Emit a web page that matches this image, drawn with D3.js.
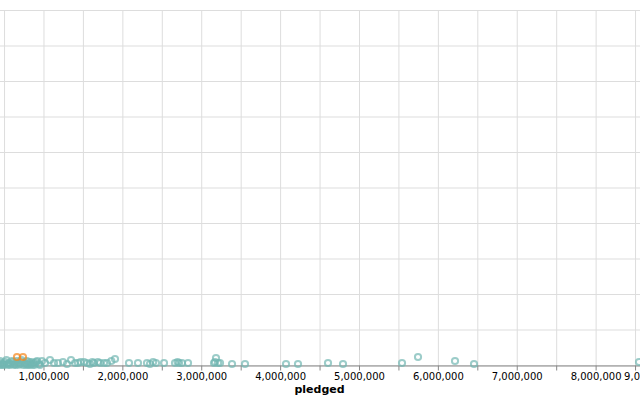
<!DOCTYPE html>
<html>
<head>
<meta charset="utf-8">
<script src="https://cdn.jsdelivr.net/npm/d3@7"></script>
<style>
  html, body { margin: 0; padding: 0; background: #fff; overflow: hidden; }
  svg { display: block; font-family: "DejaVu Sans", sans-serif; }
</style>
</head>
<body>
<svg id="chart" width="640" height="400"></svg>
<script>
// ---- data ----
const categories = ["teal", "orange"];
const categoryColors = ["#72b7b2", "#f58518"];

const tealPledged = [423500, 461500, 486800, 512200, 537600, 562900, 588300, 613600, 639000, 677000,
  702400, 727700, 765800, 791100, 816500, 841800, 879900, 905200, 943300, 981300,
  1019300, 1082700, 1133400, 1184200, 1247500, 1298300, 1349000, 1399700, 1437700, 1513800,
  1551800, 1589900, 1640600, 1716700, 1767400, 1805400, 1906800, 2084300, 2198400, 2312500,
  2350500, 2426600, 2528000, 2667500, 2718200, 2756200, 2832300, 3162000, 3187300, 3212700,
  3238000, 3390200, 3555000, 4074800, 4226900, 4607300, 4797500, 5545500, 5748300, 6217400,
  6458300, 8550000, 450000, 530000, 600000, 660000, 720000, 790000, 850000, 920000,
  1470000, 1620000, 1690000, 1860000, 2390000, 2700000, 3175000,
  440000, 470000, 500000, 545000, 575000, 625000, 650000, 690000, 745000, 775000,
  805000, 830000, 865000, 890000, 955000];
const tealBackers = [282, 563, 282, 845, 282, 563, 282, 845, 282, 563,
  282, 845, 563, 282, 845, 282, 563, 845, 282, 1127,
  563, 1408, 563, 563, 845, 282, 1408, 563, 563, 845,
  563, 282, 563, 563, 563, 563, 1690, 563, 563, 563,
  282, 563, 563, 563, 563, 563, 563, 563, 1972, 563,
  563, 282, 282, 282, 282, 563, 282, 563, 2254, 1127,
  282, 845, 1127, 1408, 1127, 1127, 1408, 1127, 845, 1127,
  845, 845, 845, 1127, 845, 845, 845,
  0, 100, 0, 100, 0, 100, 0, 100, 0, 100,
  0, 100, 0, 100, 0];
const orangePledged = [664300, 740400];
const orangeBackers = [2254, 2254];

const xTickStep = 500000;
const xDomain = [0, 9000000];
const yDomain = [0, 100000];

// ---- layout ----
const originX = -35.4, originY = 10;
const W = 709.9, H = 355;

const svg = d3.select("#chart");
const g = svg.append("g").attr("transform", `translate(${originX},${originY})`);

const x = d3.scaleLinear().domain(xDomain).range([0, W]);
const y = d3.scaleLinear().domain(yDomain).range([H, 0]);
const color = d3.scaleOrdinal().domain(categories).range(categoryColors);

const xTicks = d3.range(xDomain[0], xDomain[1] + 1, xTickStep);
const yTicks = y.ticks(10);

// grid
g.append("g").selectAll("line.vx").data(xTicks).join("line")
  .attr("x1", d => x(d) + 0.5).attr("x2", d => x(d) + 0.5)
  .attr("y1", 0).attr("y2", H)
  .attr("stroke", "#ddd").attr("stroke-width", 1);
g.append("g").selectAll("line.hy").data(yTicks).join("line")
  .attr("x1", 0).attr("x2", W)
  .attr("y1", d => y(d) + 0.5).attr("y2", d => y(d) + 0.5)
  .attr("stroke", "#ddd").attr("stroke-width", 1);

// x axis
const xAxisG = g.append("g").attr("transform", `translate(0,${H + 0.5})`);
const xAxis = d3.axisBottom(x).tickValues(xTicks).tickSize(5).tickPadding(2)
  .tickFormat(d => (d % 1000000 === 0 ? d3.format(",")(d) : ""));
xAxisG.call(xAxis);
xAxisG.select(".domain").attr("stroke", "#888");
xAxisG.selectAll(".tick line").attr("stroke", "#888");
xAxisG.selectAll(".tick text").attr("font-size", 10).attr("fill", "#000")
  .attr("font-family", "DejaVu Sans, sans-serif")
  .attr("text-anchor", d => d === xDomain[0] ? "start" : (d === xDomain[1] ? "end" : "middle"));
xAxisG.append("text")
  .attr("x", W / 2).attr("y", 27.5)
  .attr("text-anchor", "middle").attr("font-size", 11).attr("font-weight", "bold")
  .attr("fill", "#000").attr("font-family", "DejaVu Sans, sans-serif")
  .text("pledged");

// y axis (outside of view, at left)
const yAxisG = g.append("g").attr("transform", "translate(-0.5,0)");
yAxisG.call(d3.axisLeft(y).tickValues(yTicks).tickSize(5));
yAxisG.select(".domain").attr("stroke", "#888");
yAxisG.selectAll(".tick line").attr("stroke", "#888");
yAxisG.selectAll(".tick text").attr("font-size", 10);

// points
const points = [];
tealPledged.forEach((v, i) => points.push({ pledged: v, backers: tealBackers[i], cat: "teal" }));
orangePledged.forEach((v, i) => points.push({ pledged: v, backers: orangeBackers[i], cat: "orange" }));

g.append("g").selectAll("circle").data(points).join("circle")
  .attr("cx", d => x(d.pledged))
  .attr("cy", d => y(d.backers))
  .attr("r", 3.1)
  .attr("fill", "none")
  .attr("stroke", d => color(d.cat))
  .attr("stroke-width", 2)
  .attr("opacity", 0.7);
</script>
</body>
</html>
